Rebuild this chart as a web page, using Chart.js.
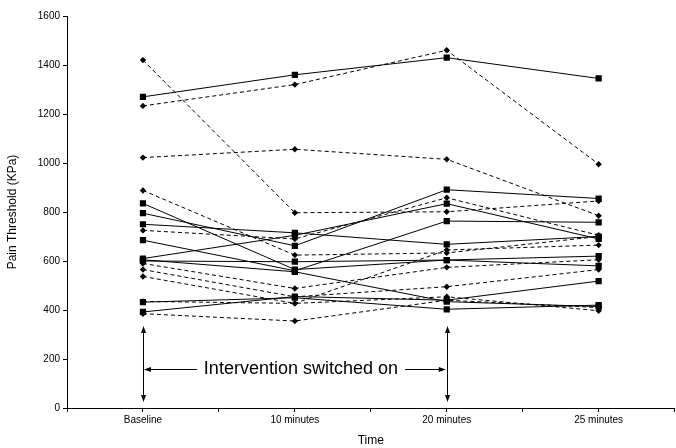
<!DOCTYPE html>
<html>
<head>
<meta charset="utf-8">
<script src="https://cdn.jsdelivr.net/npm/chart.js@4/dist/chart.umd.min.js"></script>
<style>
  html, body { margin: 0; padding: 0; background: #fff; overflow: hidden; }
  #wrap { width: 679px; height: 448px; }
</style>
</head>
<body>
<div id="wrap"><canvas id="myChart" width="679" height="448"></canvas></div>
<script>
// time points
const categories = ['Baseline', '10 minutes', '20 minutes', '25 minutes'];

// solid lines, square markers (one array per subject)
const solidSeries = [
    [1270, 1360, 1430, 1345],
    [795, 662, 891, 855],
    [750, 715, 668, 700],
    [610, 705, 834, 690],
    [835, 565, 604, 620],
    [685, 560, 763, 758],
    [600, 597, 604, 580],
    [432, 450, 403, 420],
    [392, 455, 440, 518],
    [605, 556, 434, 414]
];

// dashed lines, diamond markers
const dashedSeries = [
    [1420, 797, 801, 845],
    [1233, 1320, 1460, 995],
    [1022, 1056, 1015, 785],
    [888, 624, 633, 700],
    [725, 690, 858, 705],
    [590, 488, 574, 605],
    [565, 454, 495, 565],
    [537, 427, 645, 665],
    [435, 427, 454, 397],
    [385, 355, 440, 410]
];

// annotation: arrows in data units
const arrowXs = [0, 2];
const arrowRange = [25, 335];
const arrowLevel = 160;
const noteText = 'Intervention switched on';
const noteX = 1.04;

const datasets = [];
solidSeries.forEach(function (s) {
    datasets.push({
        data: s.map((v, i) => ({x: i, y: v})),
        borderColor: '#000',
        backgroundColor: '#000',
        borderWidth: 1,
        pointStyle: 'rect',
        pointRadius: 4.4,
        pointBorderWidth: 0
    });
});
dashedSeries.forEach(function (s) {
    datasets.push({
        data: s.map((v, i) => ({x: i, y: v})),
        borderColor: '#000',
        backgroundColor: '#000',
        borderWidth: 1,
        borderDash: [4, 3],
        pointStyle: 'rectRot',
        pointRadius: 3.2,
        pointBorderWidth: 0
    });
});

function arrowHead(ctx, x, y, dx, dy) {
    // tip at (x, y), pointing along (dx, dy)
    const len = 7, half = 2.5;
    ctx.beginPath();
    ctx.moveTo(x, y);
    ctx.lineTo(x - dx * len - dy * half, y - dy * len + dx * half);
    ctx.lineTo(x - dx * len + dy * half, y - dy * len - dx * half);
    ctx.closePath();
    ctx.fill();
}

const annotate = {
    id: 'annotate',
    afterDatasetsDraw(chart) {
        const ctx = chart.ctx;
        const xs = chart.scales.x, ys = chart.scales.y;
        ctx.save();
        ctx.strokeStyle = '#000';
        ctx.fillStyle = '#000';
        ctx.lineWidth = 1;
        const yb = ys.getPixelForValue(arrowRange[0]);
        const yt = ys.getPixelForValue(arrowRange[1]);
        arrowXs.forEach(function (v) {
            const px = Math.round(xs.getPixelForValue(v)) + 0.5;
            ctx.beginPath();
            ctx.moveTo(px, yb - 4);
            ctx.lineTo(px, yt + 4);
            ctx.stroke();
            arrowHead(ctx, px, yt, 0, -1);
            arrowHead(ctx, px, yb, 0, 1);
        });
        const ly = Math.round(ys.getPixelForValue(arrowLevel)) + 0.5;
        const x0 = xs.getPixelForValue(arrowXs[0]);
        const x1 = xs.getPixelForValue(arrowXs[1]);
        const tx = xs.getPixelForValue(noteX);
        ctx.font = '18px "Liberation Sans", Arial, sans-serif';
        ctx.textAlign = 'center';
        ctx.textBaseline = 'middle';
        const w = ctx.measureText(noteText).width;
        ctx.fillText(noteText, tx, ly);
        ctx.beginPath();
        ctx.moveTo(x0 + 4, ly);
        ctx.lineTo(tx - w / 2 - 7, ly);
        ctx.moveTo(tx + w / 2 + 7, ly);
        ctx.lineTo(x1 - 4, ly);
        ctx.stroke();
        arrowHead(ctx, x0 + 1, ly, -1, 0);
        arrowHead(ctx, x1 - 1, ly, 1, 0);
        ctx.restore();
    }
};

const tickFont = {family: '"Liberation Sans", Arial, sans-serif', size: 10};
const titleFont = {family: '"Liberation Sans", Arial, sans-serif', size: 12};

new Chart(document.getElementById('myChart'), {
    type: 'line',
    data: {datasets: datasets},
    plugins: [annotate],
    options: {
        responsive: false,
        animation: false,
        layout: {padding: {top: 16, right: 0, left: 0, bottom: 0}},
        plugins: {
            legend: {display: false},
            tooltip: {enabled: false}
        },
        scales: {
            x: {
                type: 'linear',
                min: -0.5,
                max: 3.5,
                afterFit: function (scale) { scale.height = 40; },
                afterBuildTicks: function (scale) {
                    const t = [];
                    for (let v = -0.5; v <= 3.5; v += 0.5) t.push({value: v});
                    scale.ticks = t;
                },
                border: {display: true, color: '#000', width: 1},
                grid: {drawOnChartArea: false, color: '#000', tickLength: 4},
                ticks: {
                    autoSkip: false,
                    maxRotation: 0,
                    color: '#000',
                    font: tickFont,
                    padding: 2,
                    callback: function (v) {
                        return Number.isInteger(v) ? categories[v] : '';
                    }
                },
                title: {display: true, text: 'Time', color: '#000', font: titleFont, padding: {top: 3, bottom: 0}}
            },
            y: {
                min: 0,
                max: 1600,
                afterFit: function (scale) { scale.width = 67; },
                border: {display: true, color: '#000', width: 1},
                grid: {drawOnChartArea: false, color: '#000', tickLength: 4},
                ticks: {
                    stepSize: 200,
                    color: '#000',
                    font: tickFont,
                    padding: 3,
                    callback: function (v) { return String(v); }
                },
                title: {display: true, text: 'Pain Threshold (KPa)', color: '#000', font: titleFont, padding: {top: 5, bottom: 10}}
            }
        }
    }
});
</script>
</body>
</html>
